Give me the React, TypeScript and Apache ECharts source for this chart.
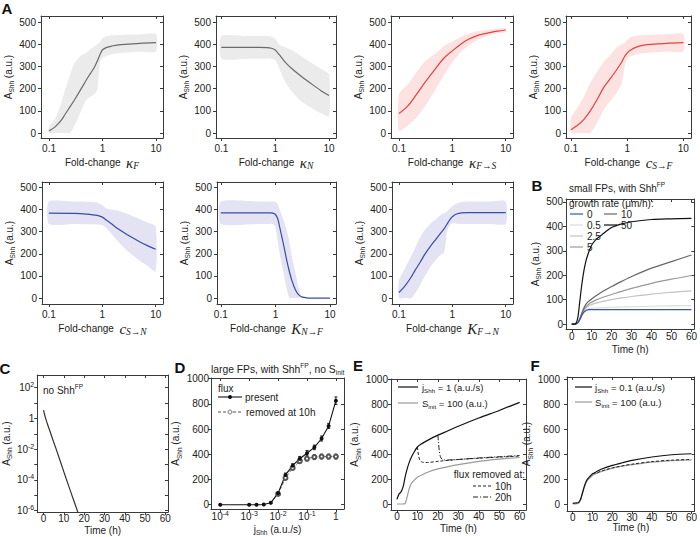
import React, { useEffect, useRef } from "react";
import * as echarts from "echarts";

const SANS = "'Liberation Sans', Arial, Helvetica, sans-serif";
const SERIF = "'Liberation Serif', 'DejaVu Serif', serif";
const INK = "#222";
const AXC = "#3a3a3a";

// ---------- Panel A: fold-change sweeps ----------
const KF_X = [0.1, 0.13, 0.17, 0.2, 0.25, 0.3, 0.4, 0.5, 0.6, 0.7, 0.8, 0.9, 1, 1.2, 1.5, 2, 3, 5, 10];
const KF_MID = [10, 28, 58, 85, 120, 150, 200, 240, 270, 295, 325, 355, 375, 386, 392, 397, 400, 404, 407];
const KF_HI = [30, 65, 135, 195, 265, 315, 350, 362, 378, 390, 400, 410, 428, 436, 440, 442, 443, 444, 445];
const KF_LO = [0, 0, 0, 0, 0, 35, 100, 150, 165, 175, 195, 320, 338, 348, 355, 360, 363, 366, 367];

const KN_X = [0.1, 0.3, 0.5, 0.7, 0.85, 1, 1.2, 1.5, 2, 3, 5, 7, 10];
const KN_MID = [386, 386, 386, 385, 382, 374, 352, 322, 292, 257, 217, 192, 169];
const KN_HI = [437, 437, 437, 437, 434, 425, 398, 388, 375, 348, 312, 290, 265];
const KN_LO = [335, 335, 335, 335, 335, 330, 290, 235, 190, 145, 110, 90, 75];

const KFS_X = [0.1, 0.15, 0.2, 0.3, 0.5, 0.7, 1, 1.5, 2, 3, 5, 7, 10];
const KFS_MID = [88, 125, 165, 225, 295, 338, 370, 403, 422, 440, 452, 459, 464];
const KFS_HI = [175, 222, 265, 320, 362, 392, 412, 435, 447, 458, 466, 470, 474];
const KFS_LO = [10, 35, 62, 118, 202, 262, 318, 368, 393, 420, 440, 449, 455];

const CSF_X = [0.1, 0.13, 0.17, 0.22, 0.29, 0.38, 0.5, 0.65, 0.8, 0.9, 1, 1.12, 1.5, 2, 3, 5, 10];
const CSF_MID = [15, 35, 62, 100, 150, 205, 245, 285, 320, 345, 360, 372, 388, 396, 400, 404, 407];
const CSF_HI = [67, 115, 165, 225, 275, 320, 352, 385, 400, 406, 418, 430, 438, 441, 443, 445, 446];
const CSF_LO = [0, 0, 0, 0, 45, 105, 145, 180, 225, 300, 337, 345, 355, 360, 363, 366, 367];

const CSN_X = [0.1, 0.3, 0.5, 0.8, 1, 1.2, 1.5, 2, 3, 5, 7, 10];
const CSN_MID = [384, 383, 380, 374, 366, 352, 335, 312, 285, 255, 237, 221];
const CSN_HI = [437, 437, 436, 432, 420, 405, 400, 395, 380, 358, 342, 325];
const CSN_LO = [335, 335, 334, 333, 330, 316, 290, 255, 212, 170, 145, 120];

const KNF_X = [0.1, 0.5, 0.8, 0.9, 1, 1.1, 1.2, 1.4, 1.6, 1.8, 2, 2.3, 2.6, 3, 3.5, 4, 5, 10];
const KNF_MID = [385, 385, 385, 384, 378, 360, 320, 245, 175, 120, 80, 40, 18, 6, 2, 0, 0, 0];
const KNF_HI = [437, 437, 437, 437, 436, 425, 400, 355, 310, 255, 190, 120, 55, 10, 0, 0, 0, 0];
const KNF_LO = [335, 335, 335, 335, 320, 260, 200, 120, 45, 0, 0, 0, 0, 0, 0, 0, 0, 0];

const KFN_X = [0.1, 0.13, 0.17, 0.2, 0.25, 0.3, 0.4, 0.5, 0.6, 0.7, 0.8, 0.9, 1, 1.2, 1.5, 2, 5, 10];
const KFN_MID = [25, 55, 95, 125, 162, 195, 238, 268, 293, 313, 335, 355, 368, 380, 385, 386, 386, 386];
const KFN_HI = [80, 135, 190, 225, 275, 305, 340, 358, 375, 385, 392, 405, 415, 428, 435, 437, 437, 437];
const KFN_LO = [0, 0, 0, 20, 60, 95, 145, 175, 195, 205, 300, 330, 338, 336, 335, 335, 335, 335];

const A_Y_TICKS = [0, 100, 200, 300, 400, 500];
const FOLD_TICKS = [-1, 0, 1]; // log10 of 0.1, 1, 10

// ---------- Panel B: growth rates ----------
const B_T = [0, 1, 2, 3, 4, 5, 6, 7, 8, 9, 10, 12, 15, 20, 25, 30, 40, 50, 60];
const B_RATES = ["0", "0.5", "2.5", "5", "10", "50"];
const B_G0 = [0, 0, 1, 5, 18, 35, 48, 55, 58, 59, 59, 59, 59, 59, 59, 59, 59, 59, 59];
const B_G05 = [0, 0, 1, 5, 18, 36, 50, 58, 62, 64, 65, 66, 67, 69, 70, 71, 73, 75, 76];
const B_G25 = [0, 0, 1, 5, 19, 38, 55, 65, 72, 77, 81, 86, 92, 100, 107, 113, 123, 130, 136];
const B_G5 = [0, 0, 1, 6, 20, 40, 58, 70, 78, 85, 90, 98, 108, 121, 134, 146, 167, 184, 199];
const B_G10 = [0, 0, 1, 6, 22, 45, 65, 80, 90, 97, 103, 115, 131, 154, 175, 195, 229, 256, 283];
const B_G50 = [0, 0, 2, 25, 92, 160, 215, 255, 283, 305, 324, 345, 365, 395, 410, 419, 428, 431, 433];
const B_COLORS = ["#3a56b0", "#dcdcdc", "#c2c2c2", "#999999", "#666666", "#111111"];
const TIME_TICKS = [0, 10, 20, 30, 40, 50, 60];

// ---------- Panel C: no Shh^FP (log scale) ----------
const C_T = [0, 0.5, 1, 2, 3, 4.5, 6, 8.5, 10, 12.5, 15, 16.6, 18];
const C_A = [3.5, 1.8, 1.05, 0.4, 0.17, 0.044, 0.012, 1.3e-3, 3.3e-4, 3.6e-5, 4e-6, 1e-6, 2.5e-7];
const C_Y_LABELS = [-6, -4, -2, 0, 2];
const C_Y_TICKS = [-6, -5, -4, -3, -2, -1, 0, 1, 2];

// ---------- Panel D: flux sweep ----------
const D_J = [1e-4, 1e-3, 1.8e-3, 3.2e-3, 5.6e-3, 1e-2, 1.8e-2, 3.2e-2, 5.6e-2, 0.1, 0.18, 0.32, 0.56, 1];
const D_PRESENT = [0, 0, 0, 2, 15, 92, 236, 310, 365, 408, 455, 525, 625, 825];
const D_PRESENT_ERR = [4, 4, 4, 4, 6, 10, 15, 15, 18, 22, 18, 20, 20, 30];
const D_REMOVED = [null, null, null, null, null, 85, 212, 292, 345, 365, 378, 382, 382, 382];
const D_REMOVED_ERR = [0, 0, 0, 0, 0, 10, 15, 15, 18, 20, 20, 20, 20, 20];
const D_X_TICKS = [-4, -3, -2, -1, 0];
const K_TICKS = [0, 200, 400, 600, 800, 1000];

// ---------- Panel E: j = 1 ----------
const E_T = [0, 1, 2, 3, 4, 5, 6, 7, 8, 10, 12, 15, 20, 25, 30, 40, 50, 60];
const E_FLUX = [40, 82, 100, 140, 218, 284, 337, 376, 408, 460, 485, 513, 555, 590, 626, 692, 753, 818];
const E_SINIT = [3, 3, 3, 3, 8, 60, 126, 166, 187, 218, 235, 258, 284, 302, 318, 345, 363, 376];
const E_T10 = [10, 10.3, 10.7, 11.2, 12, 13, 15, 20, 30, 40, 50, 60];
const E_OFF10 = [460, 420, 380, 355, 342, 336, 336, 345, 360, 370, 379, 387];
const E_T20 = [20, 20.3, 20.7, 21.2, 22, 23, 25, 30, 40, 50, 60];
const E_OFF20 = [555, 500, 430, 385, 362, 356, 356, 360, 372, 382, 392];

// ---------- Panel F: j = 0.1 ----------
const F_T = [0, 1, 2, 3, 4, 5, 6, 7, 8, 10, 12, 15, 20, 25, 30, 40, 50, 60];
const F_FLUX = [10, 12, 14, 18, 45, 99, 152, 192, 213, 245, 262, 285, 312, 333, 352, 379, 397, 405];
const F_SINIT = [5, 6, 7, 10, 38, 92, 145, 182, 203, 232, 248, 266, 290, 306, 318, 338, 350, 356];
const F_T10 = [10, 12, 15, 20, 25, 30, 40, 50, 60];
const F_OFF10 = [245, 252, 270, 292, 308, 322, 342, 354, 360];

// ---------- styles ----------
const makeRich = (fs: number): any => ({
  t: { fontFamily: SANS, fontSize: fs, color: INK, lineHeight: fs + 4 },
  s: { fontFamily: SANS, fontSize: fs * 0.65, color: INK, verticalAlign: "bottom", lineHeight: fs * 0.8 },
  sp: { fontFamily: SANS, fontSize: fs * 0.65, color: INK, verticalAlign: "top", lineHeight: fs * 0.8 },
  m: { fontFamily: SERIF, fontStyle: "italic", fontSize: 15, color: INK, lineHeight: 17 },
  ms: { fontFamily: SERIF, fontStyle: "italic", fontSize: 9.5, color: INK, verticalAlign: "bottom", lineHeight: 9 },
});
const NAME_RICH = makeRich(10);
const LABEL_RICH: any = {
  n: { fontFamily: SANS, fontSize: 10, color: INK, lineHeight: 13 },
  sup: { fontFamily: SANS, fontSize: 7, color: INK, verticalAlign: "top", lineHeight: 7 },
};

const fmtPlain = (v: number) => String(v);
const fmtFold = (v: number) => String(+Math.pow(10, v).toPrecision(2));
const fmtPow = (v: number) => (v === 0 ? "{n|1}" : `{n|10}{sup|${v}}`);

const Y_NAME = "{t|A}{s|Shh}{t| (a.u.)}";
const TIME_NAME = "{t|Time (h)}";

type Ax = { min: number; max: number; labels: number[]; ticks: number[]; fmt: (v: number) => string; name: string; gap: number; margin: number };

function buildOption() {
  const grid: any[] = [];
  const xAxis: any[] = [];
  const yAxis: any[] = [];
  const series: any[] = [];

  const lineStyle = { color: AXC, width: 1 };
  function addGrid(rect: number[], xa: Ax, ya: Ax): number {
    const gi = grid.length;
    grid.push({ left: rect[0], top: rect[1], width: rect[2], height: rect[3], containLabel: false, show: false });
    const base = (a: Ax) => ({
      type: "value", gridIndex: gi, min: a.min, max: a.max,
      splitLine: { show: false },
      axisLine: { show: true, onZero: false, lineStyle },
    });
    const label = (a: Ax) => ({
      show: true, customValues: a.labels, formatter: a.fmt, margin: a.margin,
      fontSize: 10, fontFamily: SANS, color: INK, rich: LABEL_RICH, hideOverlap: false,
      showMinLabel: true, showMaxLabel: true,
    });
    const nameStyle = { rich: NAME_RICH, fontFamily: SANS, fontSize: 10, color: INK };
    xAxis.push({
      ...base(xa), position: "bottom",
      axisTick: { show: true, inside: false, length: 3, customValues: xa.ticks, lineStyle },
      axisLabel: label(xa),
      name: xa.name, nameLocation: "middle", nameGap: xa.gap, nameTextStyle: nameStyle,
    });
    xAxis.push({
      ...base(xa), position: "top",
      axisTick: { show: true, inside: true, length: 3, customValues: xa.ticks, lineStyle },
      axisLabel: { show: false },
    });
    yAxis.push({
      ...base(ya), position: "left",
      axisTick: { show: true, inside: false, length: 3, customValues: ya.ticks, lineStyle },
      axisLabel: label(ya),
      name: ya.name, nameLocation: "middle", nameRotate: 90, nameGap: ya.gap, nameTextStyle: nameStyle,
    });
    yAxis.push({
      ...base(ya), position: "right",
      axisTick: { show: true, inside: true, length: 3, customValues: ya.ticks, lineStyle },
      axisLabel: { show: false },
    });
    return gi;
  }

  const ax = (gi: number) => ({ xAxisIndex: 2 * gi, yAxisIndex: 2 * gi });

  function band(gi: number, xs: number[], lo: number[], hi: number[], fill: string) {
    series.push({
      type: "custom", ...ax(gi), silent: true, clip: true, z: 1,
      data: [[Math.log10(xs[0]), lo[0]]],
      renderItem: (_p: any, api: any) => {
        const pts: number[][] = [];
        xs.forEach((x, i) => pts.push(api.coord([Math.log10(x), hi[i]])));
        for (let i = xs.length - 1; i >= 0; i--) pts.push(api.coord([Math.log10(xs[i]), lo[i]]));
        return { type: "polygon", shape: { points: pts, smooth: 0.2 }, style: { fill } };
      },
    });
  }
  function line(gi: number, xs: number[], ys: (number | null)[], color: string, extra: any = {}, logx = false, logy = false) {
    const data: any[] = [];
    xs.forEach((x, i) => {
      const y = ys[i];
      if (y === null || y === undefined) return;
      data.push([logx ? Math.log10(x) : x, logy ? Math.log10(y) : y]);
    });
    series.push({
      type: "line", ...ax(gi), data, showSymbol: false, symbol: "none", silent: true,
      lineStyle: { color, width: 1.2 }, itemStyle: { color }, z: 3, ...extra,
    });
  }

  // ---- Panel A ----
  const GRAY = { band: "#ebebeb", line: "#6b6b6b" };
  const RED = { band: "#fde2e2", line: "#e8413c" };
  const BLUE = { band: "#e3e3f3", line: "#3a4ca6" };
  const aY: Ax = { min: -22, max: 527, labels: A_Y_TICKS, ticks: A_Y_TICKS, fmt: fmtPlain, name: Y_NAME, gap: 25, margin: 5 };
  const aY2: Ax = { ...aY, min: -27, max: 525 };
  const foldX = (min: number, max: number, sym: string, sub: string): Ax => ({
    min, max, labels: FOLD_TICKS, ticks: FOLD_TICKS, fmt: fmtFold,
    name: `{t|Fold-change  }{m|${sym}}{ms|${sub}}`, gap: 16, margin: 5,
  });
  const aPanels: any[] = [
    { rect: [41, 16, 122, 122], x: foldX(-1.15, 1.13, "κ", "F"), y: aY, X: KF_X, M: KF_MID, L: KF_LO, H: KF_HI, c: GRAY },
    { rect: [216, 16, 120, 122], x: foldX(-1.1, 1.13, "κ", "N"), y: aY, X: KN_X, M: KN_MID, L: KN_LO, H: KN_HI, c: GRAY },
    { rect: [391, 16, 122, 122], x: foldX(-1.15, 1.137, "κ", "F→S"), y: aY, X: KFS_X, M: KFS_MID, L: KFS_LO, H: KFS_HI, c: RED },
    { rect: [566, 16, 125, 122], x: foldX(-1.09, 1.137, "c", "S→F"), y: aY, X: CSF_X, M: CSF_MID, L: CSF_LO, H: CSF_HI, c: RED },
    { rect: [42, 182, 121, 122], x: foldX(-1.13, 1.137, "c", "S→N"), y: aY2, X: CSN_X, M: CSN_MID, L: CSN_LO, H: CSN_HI, c: BLUE },
    { rect: [217, 182, 119, 122], x: foldX(-1.07, 1.11, "K", "N→F"), y: aY2, X: KNF_X, M: KNF_MID, L: KNF_LO, H: KNF_HI, c: BLUE },
    { rect: [392, 182, 121, 122], x: foldX(-1.13, 1.137, "K", "F→N"), y: aY2, X: KFN_X, M: KFN_MID, L: KFN_LO, H: KFN_HI, c: BLUE },
  ];
  aPanels.forEach((p) => {
    const gi = addGrid(p.rect, p.x, p.y);
    band(gi, p.X, p.L, p.H, p.c.band);
    line(gi, p.X, p.M, p.c.line, { smooth: 0.3 }, true);
  });

  // ---- Panel B ----
  const timeX = (min: number, max: number, gap: number, margin: number): Ax => ({
    min, max, labels: TIME_TICKS, ticks: TIME_TICKS, fmt: fmtPlain, name: TIME_NAME, gap, margin,
  });
  const gB = addGrid([566, 199, 133, 130], timeX(-2.9, 61.45, 13, 2),
    { min: -20, max: 512, labels: A_Y_TICKS, ticks: A_Y_TICKS, fmt: fmtPlain, name: Y_NAME, gap: 23, margin: 3 });
  const bSets = [B_G05, B_G25, B_G5, B_G10, B_G0, B_G50];
  const bCols = [B_COLORS[1], B_COLORS[2], B_COLORS[3], B_COLORS[4], B_COLORS[0], B_COLORS[5]];
  bSets.forEach((ys, i) => line(gB, B_T, ys, bCols[i], { smooth: 0.3 }));

  // ---- Panel C ----
  const gC = addGrid([34, 375, 134, 137], timeX(-3.1, 61.3, 11, 1),
    { min: -6.1, max: 2.83, labels: C_Y_LABELS, ticks: C_Y_TICKS, fmt: fmtPow, name: Y_NAME, gap: 21, margin: 3 });
  line(gC, C_T, C_A, "#333", { smooth: 0.3 }, false, true);

  // ---- Panel D ----
  const gD = addGrid([211, 378, 133, 132],
    { min: -4.32, max: 0.28, labels: D_X_TICKS, ticks: D_X_TICKS, fmt: fmtPow, name: "{t|j}{s|Shh}{t| (a.u./s)}", gap: 13, margin: 1 },
    { min: -34, max: 1005, labels: K_TICKS, ticks: K_TICKS, fmt: fmtPlain, name: Y_NAME, gap: 27, margin: 2 });
  const errSeries = (vals: (number | null)[], errs: number[], color: string) => {
    const data: any[] = [];
    D_J.forEach((j, i) => {
      const v = vals[i];
      if (v === null) return;
      data.push([Math.log10(j), v - errs[i], v + errs[i]]);
    });
    series.push({
      type: "custom", ...ax(gD), silent: true, z: 2, data,
      renderItem: (_p: any, api: any) => {
        const a = api.coord([api.value(0), api.value(1)]);
        const b = api.coord([api.value(0), api.value(2)]);
        const st = { stroke: color, lineWidth: 1 };
        return {
          type: "group", children: [
            { type: "line", shape: { x1: a[0], y1: a[1], x2: b[0], y2: b[1] }, style: st },
            { type: "line", shape: { x1: a[0] - 1.5, y1: a[1], x2: a[0] + 1.5, y2: a[1] }, style: st },
            { type: "line", shape: { x1: b[0] - 1.5, y1: b[1], x2: b[0] + 1.5, y2: b[1] }, style: st },
          ],
        };
      },
    });
  };
  errSeries(D_REMOVED, D_REMOVED_ERR, "#666");
  errSeries(D_PRESENT, D_PRESENT_ERR, "#222");
  line(gD, D_J, D_REMOVED, "#555", {
    showSymbol: true, symbol: "emptyCircle", symbolSize: 4,
    lineStyle: { color: "#555", width: 1, type: [3, 2] }, itemStyle: { color: "#555", borderWidth: 0.8 },
  }, true);
  line(gD, D_J, D_PRESENT, "#111", {
    showSymbol: true, symbol: "circle", symbolSize: 4, lineStyle: { color: "#111", width: 1.1 },
  }, true);

  // ---- Panel E ----
  const gE = addGrid([391, 379, 135, 131], timeX(-2.9, 63.1, 11, 1),
    { min: -45, max: 1005, labels: K_TICKS, ticks: K_TICKS, fmt: fmtPlain, name: Y_NAME, gap: 22, margin: 3 });
  line(gE, E_T, E_SINIT, "#9a9a9a", { smooth: 0.3 });
  line(gE, E_T10, E_OFF10, "#222", { smooth: 0.3, lineStyle: { color: "#222", width: 1, type: [3, 2] } });
  line(gE, E_T20, E_OFF20, "#222", { smooth: 0.3, lineStyle: { color: "#222", width: 1, type: [5, 2, 1, 2] } });
  line(gE, E_T, E_FLUX, "#111", { smooth: 0.3 });

  // ---- Panel F ----
  const gF = addGrid([567, 377, 131, 134], timeX(-2.9, 61.6, 9, 1),
    { min: -51, max: 1016, labels: K_TICKS, ticks: K_TICKS, fmt: fmtPlain, name: Y_NAME, gap: 18, margin: 7 });
  line(gF, F_T, F_SINIT, "#9a9a9a", { smooth: 0.3 });
  line(gF, F_T10, F_OFF10, "#222", { smooth: 0.3, lineStyle: { color: "#222", width: 1, type: [3, 2] } });
  line(gF, F_T, F_FLUX, "#111", { smooth: 0.3 });

  // ---- annotations (letters, titles, legends) ----
  const txt = (x: number, y: number, text: string, fs = 10, extra: any = {}) => ({
    type: "text", x, y, silent: true, z: 100,
    style: { text, fill: INK, fontFamily: SANS, fontSize: fs, verticalAlign: "middle", align: "left", rich: makeRich(fs), ...extra },
  });
  const seg = (x1: number, x2: number, y: number, stroke: string, dash?: number[], w = 1.2) => ({
    type: "line", silent: true, z: 100,
    shape: { x1, y1: y, x2, y2: y }, style: { stroke, lineWidth: w, lineDash: dash },
  });
  const letter = (x: number, y: number, t: string) =>
    txt(x, y, t, 15, { fontWeight: "bold", align: "center", rich: undefined, fill: "#111" });

  const graphic: any[] = [
    letter(7, 8, "A"), letter(537, 185, "B"), letter(5, 368, "C"),
    letter(180, 367, "D"), letter(358, 365, "E"), letter(535, 365, "F"),
    // B
    txt(569, 188, "{t|small FPs, with Shh}{sp|FP}"),
    txt(569, 203, "{t|growth rate (μm/h):}"),
  ];
  const bLegend = [
    [570, 214, 0], [570, 225, 1], [570, 236, 2], [570, 247, 3], [604, 214, 4], [604, 225, 5],
  ];
  bLegend.forEach(([x, y, i]) => {
    graphic.push(seg(x, x + 13, y, B_COLORS[i]));
    graphic.push(txt(x + 17, y, `{t|${B_RATES[i]}}`));
  });
  graphic.push(
    // C
    txt(43, 390, "{t|no Shh}{sp|FP}"),
    // D
    txt(211, 369, "{t|large FPs, with Shh}{sp|FP}{t|, no S}{s|init}", 10.3),
    txt(218, 388, "{t|flux}"),
    seg(218, 242, 397, "#111", undefined, 1.1),
    { type: "circle", z: 101, silent: true, shape: { cx: 230, cy: 397, r: 2 }, style: { fill: "#111" } },
    txt(245, 397, "{t|present}"),
    seg(218, 242, 412, "#555", [3, 2], 1),
    { type: "circle", z: 101, silent: true, shape: { cx: 230, cy: 412, r: 2 }, style: { fill: "#fff", stroke: "#555", lineWidth: 0.8 } },
    txt(246, 412, "{t|removed at 10h}"),
    // E
    seg(398, 418, 387, "#111"),
    txt(422, 387, "{t|j}{s|Shh}{t| = 1 (a.u./s)}", 9.5),
    seg(398, 418, 403, "#9a9a9a"),
    txt(422, 403, "{t|S}{s|init}{t| = 100 (a.u.)}", 9.5),
    txt(525, 474, "{t|flux removed at:}", 10, { align: "right" }),
    seg(473, 492, 486, "#222", [3, 2], 1),
    txt(495, 486, "{t|10h}"),
    seg(473, 492, 497, "#222", [5, 2, 1, 2], 1),
    txt(495, 497, "{t|20h}"),
    // F
    seg(575, 592, 387, "#111"),
    txt(595, 387, "{t|j}{s|Shh}{t| = 0.1 (a.u./s)}", 9.6),
    seg(575, 592, 402, "#9a9a9a"),
    txt(595, 402, "{t|S}{s|init}{t| = 100 (a.u.)}", 9.6),
  );

  return {
    animation: false,
    backgroundColor: "#ffffff",
    textStyle: { fontFamily: SANS },
    grid, xAxis, yAxis, series, graphic,
  };
}

export default function App() {
  const ref = useRef<HTMLDivElement>(null);
  useEffect(() => {
    if (!ref.current) return;
    const chart = echarts.init(ref.current, undefined, { renderer: "svg" });
    chart.setOption(buildOption() as any);
    return () => chart.dispose();
  }, []);
  return (
    <div
      ref={ref}
      style={{ position: "absolute", left: 0, top: 0, width: 700, height: 537, background: "#fff" }}
    />
  );
}
